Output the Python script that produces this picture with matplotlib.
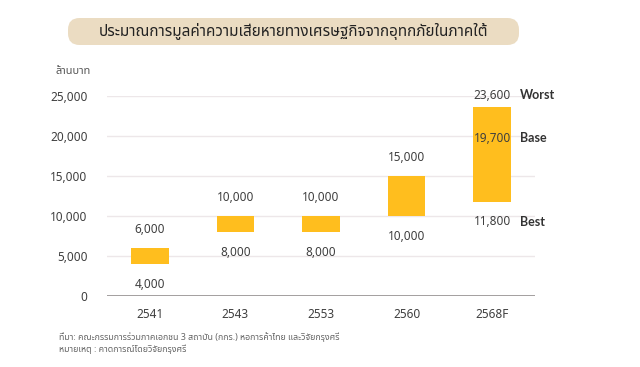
import matplotlib
matplotlib.use("Agg")
import matplotlib.pyplot as plt
from matplotlib.patches import FancyBboxPatch
from matplotlib import font_manager

years = ["2541", "2543", "2553", "2560", "2568F"]
low_values = [4000, 8000, 8000, 10000, 11800]
high_values = [6000, 10000, 10000, 15000, 23600]
base_value = 19700
y_ticks = [0, 5000, 10000, 15000, 20000, 25000]

title = "ประมาณการมูลค่าความเสียหายทางเศรษฐกิจจากอุทกภัยในภาคใต้"
unit_label = "ล้านบาท"
source_note = "ที่มา: คณะกรรมการร่วมภาคเอกชน 3 สถาบัน (กกร.) หอการค้าไทย และวิจัยกรุงศรี"
remark_note = "หมายเหตุ : คาดการณ์โดยวิจัยกรุงศรี"

# pick a font that has thai glyphs, fall back to DejaVu
installed = {f.name for f in font_manager.fontManager.ttflist}
families = [f for f in ["Noto Sans", "Noto Sans Thai", "Noto Sans Thai UI", "Loma",
                        "Garuda", "Norasi", "Tlwg Typist", "DejaVu Sans"] if f in installed]
plt.rcParams["font.family"] = families
bold_family = [f for f in ["Lato", "Open Sans", "DejaVu Sans"] if f in installed]

bar_color = "#FFBE1E"
text_color = "#3f3f3f"
num_size = 8.5

fig = plt.figure(figsize=(6.4, 3.67), dpi=100)
ax = fig.add_axes([107 / 640, 71 / 367, 428 / 640, 200 / 367])

x = list(range(len(years)))
heights = [h - l for l, h in zip(low_values, high_values)]
ax.bar(x, heights, bottom=low_values, width=0.44, color=bar_color, zorder=3)

ax.set_xlim(-0.5, len(years) - 0.5)
ax.set_ylim(0, 25000)
ax.set_yticks(y_ticks)
ax.set_yticklabels([f"{v:,}" for v in y_ticks], fontsize=num_size, color=text_color)
ax.set_xticks(x)
ax.set_xticklabels(years, fontsize=num_size, color=text_color)
ax.tick_params(length=0, axis="y", pad=14)
ax.tick_params(length=0, axis="x", pad=9)
for v in y_ticks[1:]:
    ax.axhline(v, color="#ede7e9", lw=1, zorder=1)
ax.axhline(0, color="#8a8585", lw=1.1, zorder=2)
for s in ax.spines.values():
    s.set_visible(False)

# value labels above and below each bar
for i, (lo, hi) in enumerate(zip(low_values, high_values)):
    top_off = 8.5 if i == len(years) - 1 else 13.5
    ax.annotate(f"{hi:,}", (i, hi), xytext=(0, top_off), textcoords="offset points",
                ha="center", va="center", fontsize=num_size, color=text_color)
    ax.annotate(f"{lo:,}", (i, lo), xytext=(0, -14.5), textcoords="offset points",
                ha="center", va="center", fontsize=num_size, color=text_color)
last = len(years) - 1
ax.text(last, base_value, f"{base_value:,}", ha="center", va="center",
        fontsize=num_size, color=text_color, zorder=4)

# scenario names to the right of the last bar
scen_x = last + 0.32
ax.annotate("Worst", (scen_x, high_values[last]), xytext=(0, 8.5), textcoords="offset points",
            ha="left", va="center", fontsize=9, fontweight="bold", color="#333333",
            family=bold_family, annotation_clip=False)
ax.text(scen_x, base_value, "Base", ha="left", va="center", fontsize=9,
        fontweight="bold", color="#333333", family=bold_family, clip_on=False)
ax.annotate("Best", (scen_x, low_values[last]), xytext=(0, -14.5), textcoords="offset points",
            ha="left", va="center", fontsize=9, fontweight="bold", color="#333333",
            family=bold_family, annotation_clip=False)

# title box
box = FancyBboxPatch((68 / 640, (367 - 45) / 367), 451 / 640, 27 / 367,
                     boxstyle="round,pad=0,rounding_size=0.018",
                     transform=fig.transFigure, facecolor="#EBDCC2", edgecolor="none",
                     mutation_aspect=640 / 367)
fig.patches.append(box)
fig.text(294 / 640, (367 - 32) / 367, title, ha="center", va="center",
         fontsize=11, fontweight="semibold", color="#222222")

fig.text(55 / 640, (367 - 72) / 367, unit_label, ha="left", va="center",
         fontsize=8, color="#555555")
fig.text(59 / 640, (367 - 337) / 367, source_note, ha="left", va="center",
         fontsize=6.4, color="#666666")
fig.text(59 / 640, (367 - 349) / 367, remark_note, ha="left", va="center",
         fontsize=6.4, color="#666666")

fig.savefig("out.png", dpi=100, facecolor="white")
